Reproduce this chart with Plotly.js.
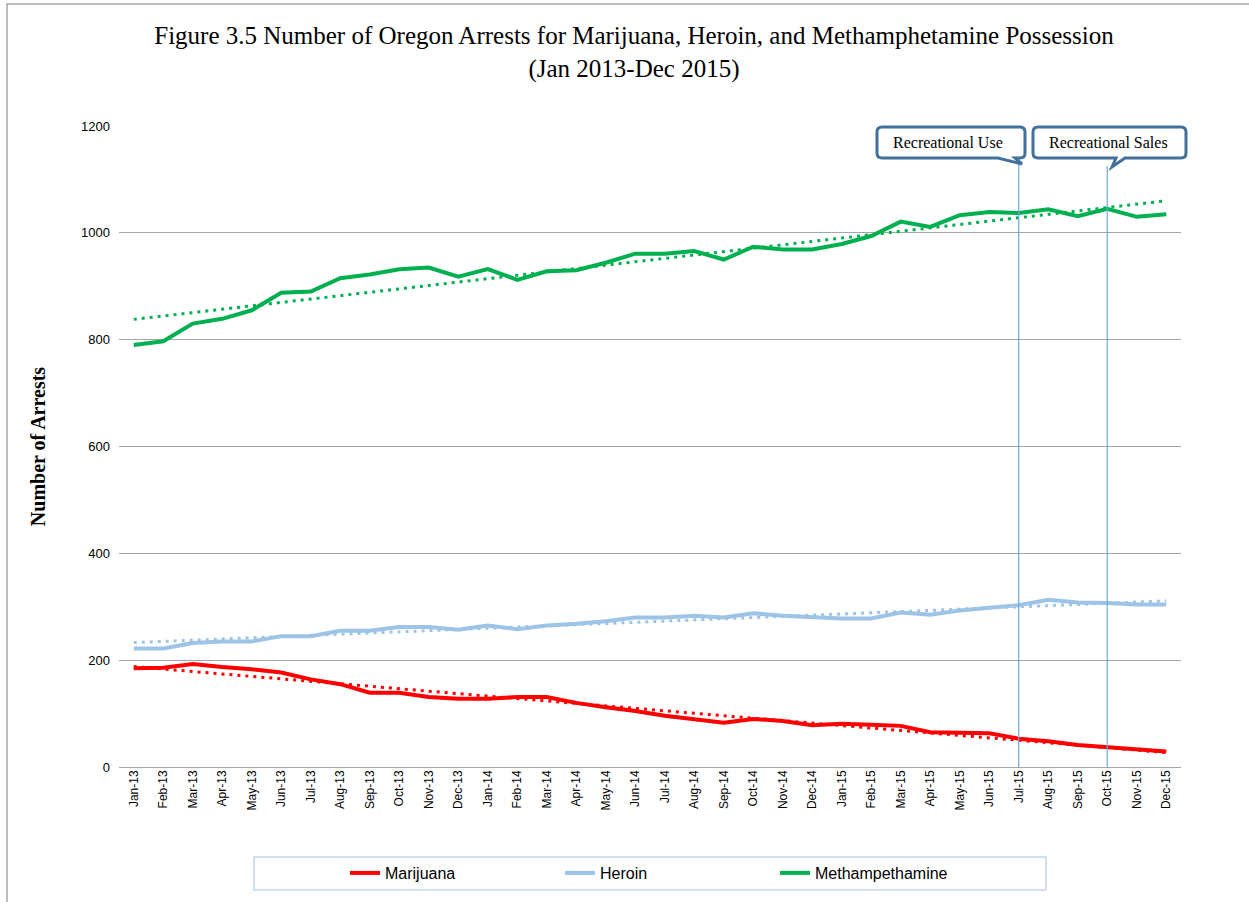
<!DOCTYPE html>
<html>
<head>
<meta charset="utf-8">
<script src="https://cdn.plot.ly/plotly-3.0.1.min.js"></script>
<style>html,body{margin:0;padding:0;background:#fff;}#chart{width:1249px;height:902px;}</style>
</head>
<body>
<div id="chart"></div>
<script>
const months = ["Jan-13","Feb-13","Mar-13","Apr-13","May-13","Jun-13","Jul-13","Aug-13","Sep-13","Oct-13","Nov-13","Dec-13",
"Jan-14","Feb-14","Mar-14","Apr-14","May-14","Jun-14","Jul-14","Aug-14","Sep-14","Oct-14","Nov-14","Dec-14",
"Jan-15","Feb-15","Mar-15","Apr-15","May-15","Jun-15","Jul-15","Aug-15","Sep-15","Oct-15","Nov-15","Dec-15"];

const marijuana = [185,186,193,187,183,177,164,155,139,139,131,128,
128,131,131,120,112,105,96,89,83,90,86,78,
81,79,77,65,64,63,53,48,41,37,32,29];

const heroin = [222,222,232,235,235,245,245,255,255,262,262,257,
265,258,265,268,273,280,280,283,280,288,283,280,
278,278,289,285,293,298,303,313,308,307,304,304];

const meth = [790,797,830,839,855,888,890,915,922,932,935,918,
932,912,928,930,944,961,961,966,950,974,969,969,
979,994,1021,1011,1033,1039,1037,1044,1031,1045,1030,1035];

// Linear trend lines (value at Jan-13, value at Dec-15)
const trendMarijuana = [188, 27];
const trendHeroin = [233, 311];
const trendMeth = [838, 1060];

const eventLabels = ["Recreational Use", "Recreational Sales"];
const eventMonths = ["Jul-15", "Oct-15"];

const seriesNames = ["Marijuana", "Heroin", "Methampethamine"];
const colors = ["#ff0000", "#9dc3e6", "#00b050"];

const ends = [months[0], months[months.length - 1]];
const allSeries = [marijuana, heroin, meth];
const trends = [trendMarijuana, trendHeroin, trendMeth];

const traces = [];
allSeries.forEach((s, i) => {
  traces.push({
    x: months, y: s, type: "scatter", mode: "lines", name: seriesNames[i],
    line: {color: colors[i], width: 4}
  });
});
trends.forEach((t, i) => {
  traces.push({
    x: ends, y: t, type: "scatter", mode: "lines", showlegend: false, hoverinfo: "skip",
    line: {color: colors[i], width: 3, dash: "3px,5px"}
  });
});

// pixel helpers for paper coords
const L = 119, R = 1181, T = 126, B = 767;
const px = v => (v - L) / (R - L);
const py = v => (B - v) / (B - T);

function calloutPath(x0, x1, y0, y1, r, tail) {
  const X = px, Y = py;
  let p = `M ${X(x0 + r)} ${Y(y0)} L ${X(x1 - r)} ${Y(y0)} Q ${X(x1)} ${Y(y0)} ${X(x1)} ${Y(y0 + r)} `;
  p += `L ${X(x1)} ${Y(y1 - r)} Q ${X(x1)} ${Y(y1)} ${X(x1 - r)} ${Y(y1)} `;
  p += `L ${X(tail[3])} ${Y(y1)} L ${X(tail[1])} ${Y(tail[2])} L ${X(tail[0])} ${Y(y1)} `;
  p += `L ${X(x0 + r)} ${Y(y1)} Q ${X(x0)} ${Y(y1)} ${X(x0)} ${Y(y1 - r)} `;
  p += `L ${X(x0)} ${Y(y0 + r)} Q ${X(x0)} ${Y(y0)} ${X(x0 + r)} ${Y(y0)} Z`;
  return p;
}

const shapes = [
  {type: "rect", xref: "paper", yref: "paper", x0: px(7), x1: px(1262), y0: py(4), y1: py(915),
   line: {color: "#a6a6a6", width: 1.5}, fillcolor: "rgba(0,0,0,0)", layer: "below"},
  {type: "rect", xref: "paper", yref: "paper", x0: px(254), x1: px(1046), y0: py(857), y1: py(890),
   line: {color: "#9dc3e6", width: 1}, fillcolor: "rgba(0,0,0,0)"},
  {type: "line", xref: "x", yref: "paper", x0: eventMonths[0], x1: eventMonths[0], y0: 0, y1: py(162),
   line: {color: "#6fa8dc", width: 1.2}},
  {type: "line", xref: "x", yref: "paper", x0: eventMonths[1], x1: eventMonths[1], y0: 0, y1: py(166),
   line: {color: "#6fa8dc", width: 1.2}},
  {type: "path", xref: "paper", yref: "paper", path: calloutPath(877, 1025, 127, 158, 5, [998, 1022, 164, 1015]),
   line: {color: "#41719c", width: 3}, fillcolor: "#ffffff"},
  {type: "path", xref: "paper", yref: "paper", path: calloutPath(1033, 1186, 127, 158, 5, [1116, 1112, 167, 1125]),
   line: {color: "#41719c", width: 3}, fillcolor: "#ffffff"}
];

const annotations = [
  {xref: "paper", yref: "paper", x: px(948), y: py(143), text: eventLabels[0], showarrow: false,
   font: {family: "Liberation Serif, Times New Roman, serif", size: 16, color: "#000"}, xanchor: "center", yanchor: "middle"},
  {xref: "paper", yref: "paper", x: px(1108), y: py(143), text: eventLabels[1], showarrow: false,
   font: {family: "Liberation Serif, Times New Roman, serif", size: 16, color: "#000"}, xanchor: "center", yanchor: "middle"}
];

const layout = {
  width: 1249, height: 902,
  margin: {l: L, r: 1249 - R, t: T, b: 902 - B},
  paper_bgcolor: "#ffffff", plot_bgcolor: "#ffffff",
  title: {
    text: "Figure 3.5 Number of Oregon Arrests for Marijuana, Heroin, and Methamphetamine Possession<br>(Jan 2013-Dec 2015)",
    font: {family: "Liberation Serif, Times New Roman, serif", size: 25, color: "#000"},
    x: 634 / 1249, xanchor: "center", xref: "container",
    y: 1 - 44 / 902, yanchor: "top", yref: "container"
  },
  xaxis: {
    type: "category", categoryorder: "array", categoryarray: months,
    range: [-0.5, months.length - 0.5],
    tickangle: -90, tickfont: {family: "Liberation Sans, Arial, sans-serif", size: 12, color: "#000"},
    showgrid: false, showline: false, zeroline: false, ticks: "", automargin: false
  },
  yaxis: {
    range: [0, 1200], dtick: 200, tick0: 0,
    tickfont: {family: "Liberation Sans, Arial, sans-serif", size: 13, color: "#000"},
    gridcolor: "#a6a6a6", gridwidth: 1, zeroline: true, zerolinecolor: "#a6a6a6", zerolinewidth: 1,
    showline: false, ticks: "", automargin: false, ticklabelstandoff: 8,
    title: {text: "Number of Arrests", standoff: 30,
      font: {family: "Liberation Serif, Times New Roman, serif", size: 20, color: "#000", weight: "bold"}}
  },
  showlegend: true,
  legend: {
    orientation: "h", x: px(345), xanchor: "left", y: py(873), yanchor: "middle",
    font: {family: "Liberation Sans, Arial, sans-serif", size: 16, color: "#000"},
    bgcolor: "rgba(0,0,0,0)", borderwidth: 0, traceorder: "normal",
    entrywidth: 170, entrywidthmode: "pixels"
  },
  shapes: shapes,
  annotations: annotations
};

Plotly.newPlot("chart", traces, layout, {displayModeBar: false, staticPlot: true});
</script>
</body>
</html>
